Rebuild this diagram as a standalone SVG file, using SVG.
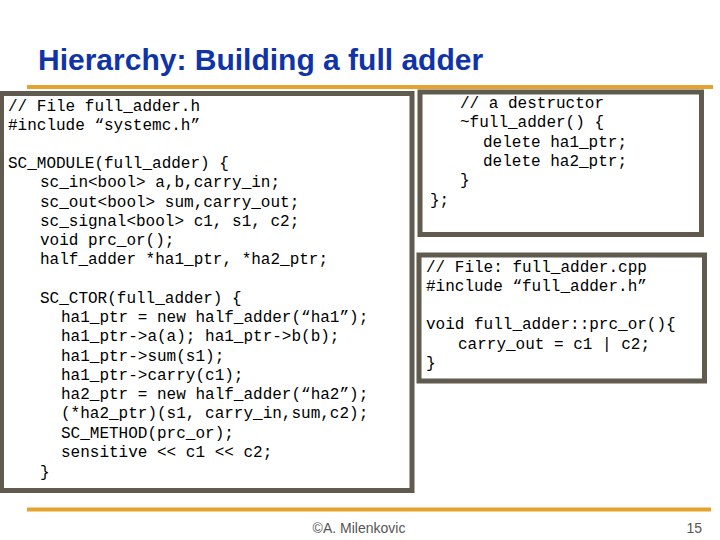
<svg xmlns="http://www.w3.org/2000/svg" width="720" height="540" viewBox="0 0 720 540">
<style>
.code{font-family:"Liberation Mono","Courier New",monospace;font-size:16px;fill:#000}
.box{fill:#fff;stroke:#605a4f;stroke-width:5}
.rule{stroke:#e5a22e;stroke-width:4}
</style>
<rect width="720" height="540" fill="#fff"/>
<text id="title" x="38" y="70" font-family="Liberation Sans, Arial, sans-serif" font-size="30" font-weight="bold" fill="#1034a8">Hierarchy: Building a full adder</text>
<line class="rule" x1="27" y1="87" x2="713" y2="87"/>
<g id="header-file">
<rect class="box" x="1.5" y="93.5" width="410.5" height="397"/>
<text class="code" x="8" y="110.5">// File full_adder.h</text>
<text class="code" x="8" y="129.7">#include “systemc.h”</text>
<text class="code" x="8" y="168">SC_MODULE(full_adder) {</text>
<text class="code" x="40" y="187.2">sc_in&lt;bool&gt; a,b,carry_in;</text>
<text class="code" x="40" y="206.5">sc_out&lt;bool&gt; sum,carry_out;</text>
<text class="code" x="40" y="225.8">sc_signal&lt;bool&gt; c1, s1, c2;</text>
<text class="code" x="40" y="245">void prc_or();</text>
<text class="code" x="40" y="264.3">half_adder *ha1_ptr, *ha2_ptr;</text>
<text class="code" x="40" y="302.8">SC_CTOR(full_adder) {</text>
<text class="code" x="61" y="322">ha1_ptr = new half_adder(“ha1”);</text>
<text class="code" x="61" y="341.2">ha1_ptr-&gt;a(a); ha1_ptr-&gt;b(b);</text>
<text class="code" x="61" y="360.5">ha1_ptr-&gt;sum(s1);</text>
<text class="code" x="61" y="379.7">ha1_ptr-&gt;carry(c1);</text>
<text class="code" x="61" y="399">ha2_ptr = new half_adder(“ha2”);</text>
<text class="code" x="61" y="418.2">(*ha2_ptr)(s1, carry_in,sum,c2);</text>
<text class="code" x="61" y="437.5">SC_METHOD(prc_or);</text>
<text class="code" x="61" y="456.7">sensitive &lt;&lt; c1 &lt;&lt; c2;</text>
<text class="code" x="40" y="476.5">}</text>
</g>
<g id="destructor">
<rect class="box" x="420" y="92" width="281.5" height="142.5"/>
<text class="code" x="460" y="108">// a destructor</text>
<text class="code" x="460" y="127.3">~full_adder() {</text>
<text class="code" x="483" y="146.6">delete ha1_ptr;</text>
<text class="code" x="483" y="165.9">delete ha2_ptr;</text>
<text class="code" x="460" y="185.2">}</text>
<text class="code" x="430" y="204.5">};</text>
</g>
<g id="cpp-file">
<rect class="box" x="419" y="255" width="285.5" height="126"/>
<text class="code" x="426" y="271.5">// File: full_adder.cpp</text>
<text class="code" x="426" y="290.8">#include “full_adder.h”</text>
<text class="code" x="426" y="329.3">void full_adder::prc_or(){</text>
<text class="code" x="458" y="348.6">carry_out = c1 | c2;</text>
<text class="code" x="426" y="367.9">}</text>
</g>
<g id="connectors"></g>
<line class="rule" x1="27" y1="509.5" x2="711" y2="509.5"/>
<text x="359" y="533" text-anchor="middle" font-family="Liberation Sans, Arial, sans-serif" font-size="14" fill="#555">©A. Milenkovic</text>
<text x="702" y="533" text-anchor="end" font-family="Liberation Sans, Arial, sans-serif" font-size="14" fill="#555">15</text>
</svg>
